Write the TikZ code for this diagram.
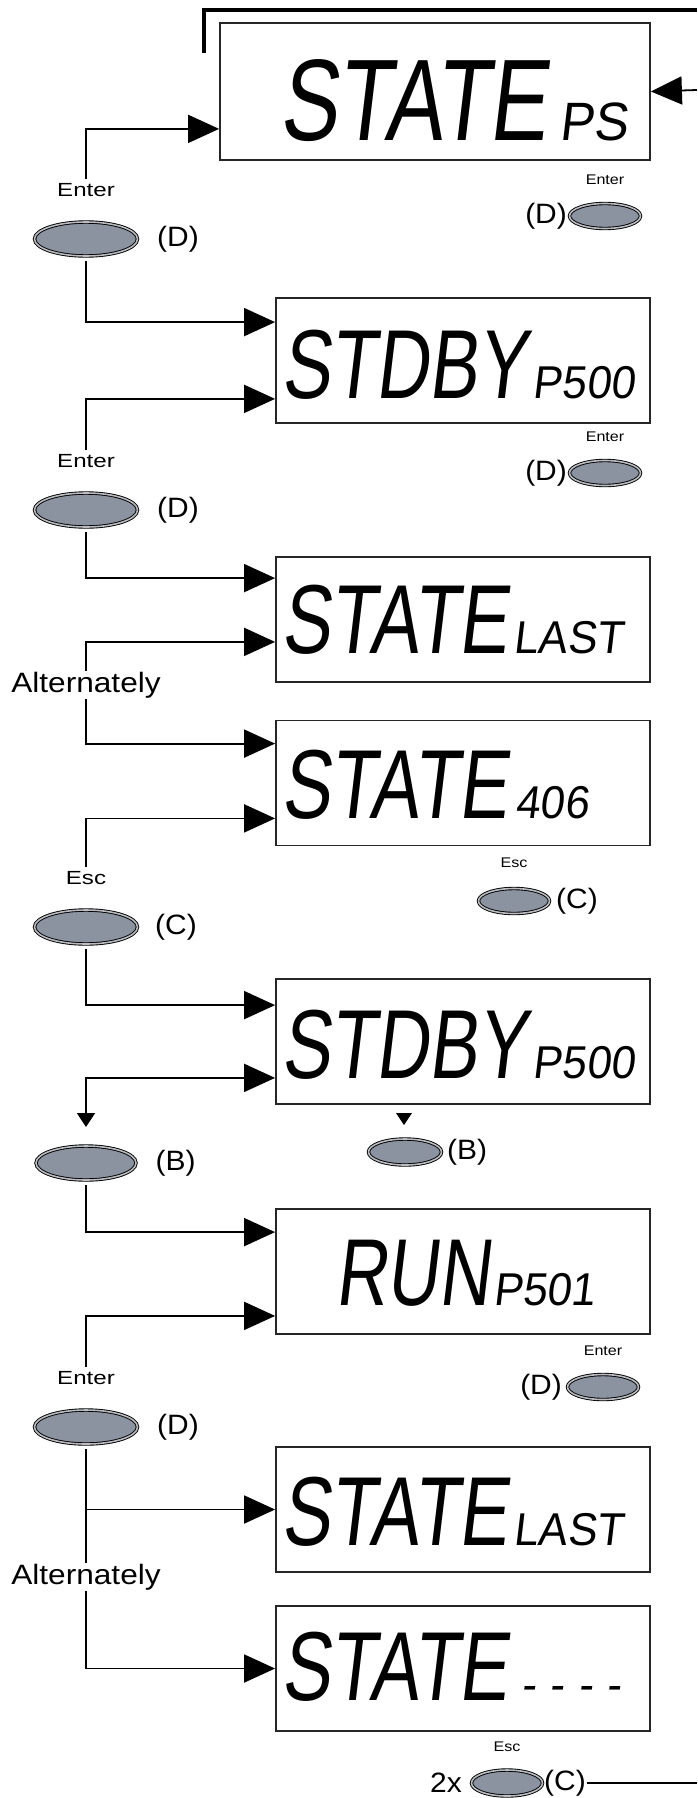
\documentclass[tikz,border=0pt]{standalone}
\usepackage{fontspec}
\usepackage{tikz}
\usetikzlibrary{arrows.meta,positioning,shapes.geometric}
\setmainfont{Liberation Sans}
\newfontfamily\lblfont{Liberation Sans}[FakeStretch=1.27]
\newfontfamily\keyfont{Liberation Sans}[FakeStretch=1.07]
\newfontfamily\altfont{Liberation Sans}[FakeStretch=1.13]
\newfontfamily\sfont{Liberation Sans}[FakeStretch=1.15]
\newfontfamily\lcdfont{Liberation Sans}[FakeStretch=0.75,FakeSlant=0.12]
\newfontfamily\lcdsubfont{Liberation Sans}[FakeStretch=0.95,FakeSlant=0.12]
\definecolor{btngray}{RGB}{139,146,160}
\definecolor{btnring}{RGB}{185,187,192}

\begin{document}
\begin{tikzpicture}[x=1pt, y=-1pt,
    lcd/.style={draw=black!85, line width=1.8pt, minimum width=374pt, minimum height=125pt, inner sep=0pt},
    big/.style={inner sep=0pt, anchor=base west, font=\lcdfont\fontsize{98}{98}\selectfont},
    small/.style={inner sep=0pt, anchor=base west, font=\lcdsubfont\fontsize{46}{46}\selectfont},
    btn/.style={ellipse, draw=black, line width=0.9pt, double=btnring, double distance=1.6pt, fill=btngray, minimum width=103pt, minimum height=34pt, inner sep=0pt},
    sbtn/.style={btn, minimum width=71pt, minimum height=25pt},
    lbl/.style={inner sep=4pt, font=\lblfont\fontsize{19}{19}\selectfont},
    slbl/.style={inner sep=2pt, font=\sfont\fontsize{14}{14}\selectfont},
    key/.style={inner sep=1pt, font=\keyfont\fontsize{28}{28}\selectfont},
    alt/.style={inner sep=1pt, fill=white, font=\altfont\fontsize{28}{28}\selectfont},
    conn/.style={line width=1.8pt},
    arr/.style={conn, -{Triangle[length=31pt,width=28pt]}},
    markarr/.style={conn, {Triangle[length=14pt,width=18pt]}-{Triangle[length=31pt,width=28pt]}}
  ]
  \useasboundingbox (0,0) rectangle (697,1798);

  % displays
  \node[lcd, minimum width=430pt, minimum height=137pt] (d1) at (435,91.5) {};
  \node[lcd] (d2) at (463,360.5) {};
  \node[lcd] (d3) at (463,619.5) {};
  \node[lcd] (d4) at (463,783) {};
  \node[lcd] (d5) at (463,1041.5) {};
  \node[lcd] (d6) at (463,1271.5) {};
  \node[lcd] (d7) at (463,1509.5) {};
  \node[lcd] (d8) at (463,1668.5) {};

  \node[big, font=\lcdfont\fontsize{116}{116}\selectfont] (t1) at ([xshift=60pt,yshift=20pt]d1.south west) {STATE};
  \node[small, font=\lcdsubfont\fontsize{54}{54}\selectfont] (p1) at ([xshift=12pt]t1.base east) {PS};
  \node[big] (t2) at ([xshift=6pt,yshift=25pt]d2.south west) {STDBY};
  \node[small] (p2) at ([xshift=6pt]t2.base east) {P500};
  \node[big] (t3) at ([xshift=6pt,yshift=29pt]d3.south west) {STATE};
  \node[small] (p3) at ([xshift=6pt]t3.base east) {LAST};
  \node[big] (t4) at ([xshift=6pt,yshift=28pt]d4.south west) {STATE};
  \node[small] (p4) at ([xshift=8pt]t4.base east) {406};
  \node[big] (t5) at ([xshift=6pt,yshift=26pt]d5.south west) {STDBY};
  \node[small] (p5) at ([xshift=6pt]t5.base east) {P500};
  \node[big, font=\lcdfont\fontsize{95}{95}\selectfont] (t6) at ([xshift=60pt,yshift=29pt]d6.south west) {RUN};
  \node[small] (p6) at ([xshift=3pt]t6.base east) {P501};
  \node[big] (t7) at ([xshift=6pt,yshift=27pt]d7.south west) {STATE};
  \node[small] (p7) at ([xshift=6pt]t7.base east) {LAST};
  \node[big] (t8) at ([xshift=6pt,yshift=31pt]d8.south west) {STATE};
  \node[small, font=\lcdsubfont\fontsize{46}{46}\selectfont\addfontfeature{LetterSpace=30}] (p8) at ([xshift=14pt]t8.base east) {----};

  % left keys
  \node[btn] (b1) at (86,239) {};
  \node[key, right=18pt of b1] (k1) {(D)};
  \node[lbl, above=21pt of b1] (e1) {Enter};
  \node[btn] (b2) at (86,510) {};
  \node[key, right=18pt of b2] (k2) {(D)};
  \node[lbl, above=21pt of b2] (e2) {Enter};
  \node[alt] (a1) at (86,685) {Alternately};
  \node[btn] (b3) at (86,927) {};
  \node[key, right=16pt of b3] (k3) {(C)};
  \node[lbl, above=21pt of b3] (e3) {Esc};
  \coordinate (m1) at (86,1127);
  \node[btn, minimum width=100pt] (b4) at (86,1163) {};
  \node[key, right=18pt of b4] (k4) {(B)};
  \node[btn] (b5) at (86,1427) {};
  \node[key, right=18pt of b5] (k5) {(D)};
  \node[lbl, above=21pt of b5] (e4) {Enter};
  \node[alt] (a2) at (86,1577) {Alternately};

  % right keys
  \node[sbtn] (sb1) at (605,216) {};
  \node[key, left=1pt of sb1] (sk1) {(D)};
  \node[slbl, above=16pt of sb1] (se1) {Enter};
  \node[sbtn] (sb2) at (605,473) {};
  \node[key, left=1pt of sb2] (sk2) {(D)};
  \node[slbl, above=16pt of sb2] (se2) {Enter};
  \node[sbtn] (sb3) at (514,901) {};
  \node[key, right=5pt of sb3] (sk3) {(C)};
  \node[slbl, above=18pt of sb3] (se3) {Esc};
  \coordinate (m2) at (404,1125);
  \node[sbtn, minimum width=73pt, minimum height=26pt] (sb4) at (405,1152) {};
  \node[key, right=4pt of sb4] (sk4) {(B)};
  \node[sbtn] (sb5) at (603,1387) {};
  \node[key, left=4pt of sb5] (sk5) {(D)};
  \node[slbl, above=16pt of sb5] (se5) {Enter};
  \node[sbtn, minimum height=26pt] (sb6) at (507,1783) {};
  \node[key, left=8pt of sb6] (sk6) {2x};
  \node[key, right=0pt of sb6] (sk7) {(C)};
  \node[slbl, above=16pt of sb6] (se6) {Esc};

  \coordinate (topa) at (204,53);
  \coordinate (topb) at (697,10);
  \coordinate (rin) at (697,90);
  \coordinate (rout) at (697,1783);

  \draw[line width=4pt] (topa) |- (topb);
  \draw[arr] (rin) -- (d1.east);
  \draw[arr] (e1.north) |- ([yshift=32pt]d1.south west);
  \draw[arr] ([yshift=-5pt]b1.south) |- ([yshift=-25pt]d2.north west);
  \draw[arr] (e2.north) |- ([yshift=25pt]d2.south west);
  \draw[arr] ([yshift=-5pt]b2.south) |- ([yshift=-22pt]d3.north west);
  \draw[arr] (a1) |- ([yshift=41pt]d3.south west);
  \draw[arr] (a1) |- ([yshift=-24pt]d4.north west);
  \draw[arr] (e3.north) |- ([yshift=28pt]d4.south west);
  \draw[arr] ([yshift=-5pt]b3.south) |- ([yshift=-27pt]d5.north west);
  \draw[markarr] (m1) |- ([yshift=27pt]d5.south west);
  \fill ([xshift=-8pt,yshift=12pt]m2) -- ([xshift=8pt,yshift=12pt]m2) -- (m2) -- cycle;
  \draw[arr] ([yshift=-5pt]b4.south) |- ([yshift=-24pt]d6.north west);
  \draw[arr] (e4.north) |- ([yshift=19pt]d6.south west);
  \draw[arr] ([yshift=-5pt]b5.south) |- (d7.west);
  \draw[conn] ([yshift=-5pt]b5.south) -- (a2);
  \draw[arr] (a2) |- (d8.west);
  \draw[conn] (sk7.east) -- (rout);
\end{tikzpicture}
\end{document}
